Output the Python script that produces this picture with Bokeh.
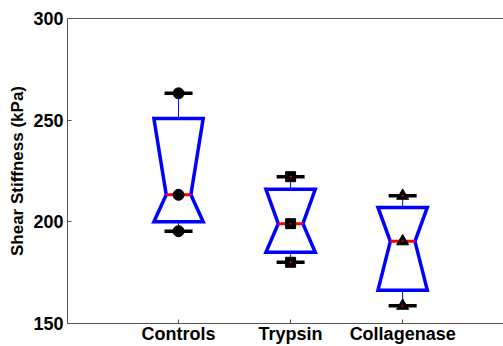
from bokeh.plotting import figure
from bokeh.models import Range1d, FixedTicker, Title, ColumnDataSource, LinearAxis
from bokeh.embed import file_html
from bokeh.resources import INLINE

# ---- data ----
groups = ["Controls", "Trypsin", "Collagenase"]
positions = [1, 2, 3]
upper = [263.2, 222.2, 212.8]
q3 = [250.8, 216.0, 207.1]
median = [213.3, 199.1, 190.4]
q1 = [200.0, 185.0, 166.4]
lower = [195.4, 180.1, 158.7]
markers = ["circle", "square", "triangle"]
y_ticks = [150, 200, 250, 300]
y_title = "Shear Stiffness (kPa)"

# ---- style ----
BOX_HALF = 0.22
NOTCH_HALF = 0.11
CAP_HALF = 0.125
FONT = "Liberation Sans"
X_START, X_END = 0.009, 3.9

p = figure(width=503, height=346, output_backend="svg", toolbar_location=None,
           x_range=Range1d(X_START, X_END), y_range=Range1d(150, 300),
           min_border_left=67, min_border_right=0, min_border_top=18,
           min_border_bottom=20)
p.background_fill_color = "white"
p.border_fill_color = "white"
p.outline_line_color = None
p.xgrid.visible = False
p.ygrid.visible = False

bottom = p.below[0]
left = p.left[0]

# top border line (axes box top; right edge lies outside the window)
top = LinearAxis(ticker=FixedTicker(ticks=[]), axis_line_color="#555555",
                 major_label_text_color=None, major_tick_line_color=None,
                 minor_tick_line_color=None)
p.add_layout(top, "above")

# whiskers
p.segment(x0=positions, y0=q3, x1=positions, y1=upper, line_color="#0000ff", line_width=1)
p.segment(x0=positions, y0=q1, x1=positions, y1=lower, line_color="#0000ff", line_width=1)

# notched boxes
xs, ys = [], []
for x, a, m, b in zip(positions, q3, median, q1):
    xs.append([x - BOX_HALF, x + BOX_HALF, x + NOTCH_HALF, x + BOX_HALF, x - BOX_HALF, x - NOTCH_HALF])
    ys.append([a, a, m, b, b, m])
p.patches(xs=xs, ys=ys, fill_color=None, line_color="#0000ff", line_width=3.5, line_join="miter")

# median lines
p.segment(x0=[x - NOTCH_HALF for x in positions], y0=median,
          x1=[x + NOTCH_HALF for x in positions], y1=median,
          line_color="#ff0000", line_width=3)

# whisker caps
for vals in (upper, lower):
    p.segment(x0=[x - CAP_HALF for x in positions], y0=vals,
              x1=[x + CAP_HALF for x in positions], y1=vals,
              line_color="black", line_width=3.5)

# markers at max, median, min
sizes = {"circle": 11, "square": 10, "triangle": 12}
for x, mk, u, m, lo in zip(positions, markers, upper, median, lower):
    src = ColumnDataSource(dict(x=[x, x, x], y=[u, m, lo]))
    p.scatter("x", "y", source=src, marker=mk, size=sizes[mk],
              fill_color="black", line_color="black")
    if mk != "circle":
        p.scatter("x", "y", source=src, marker="circle", size=2,
                  fill_color="red", line_color=None)

# axes
bottom.ticker = FixedTicker(ticks=positions)
bottom.major_label_overrides = {x: g for x, g in zip(positions, groups)}
left.ticker = FixedTicker(ticks=y_ticks)
for ax in (bottom, left):
    ax.major_label_text_font = FONT
    ax.major_label_text_font_style = "bold"
    ax.major_label_text_font_size = "18px"
    ax.major_label_text_color = "black"
    ax.axis_line_color = "#555555"
    ax.major_tick_line_color = "#555555"
    ax.major_tick_in = 4
    ax.major_tick_out = 0
    ax.minor_tick_line_color = None
bottom.major_label_standoff = 0
left.major_label_standoff = 4

# y title, shifted upward like the reference
p.add_layout(Title(text=y_title, align="center", offset=65, standoff=8,
                   text_font=FONT, text_font_style="bold", text_font_size="17px",
                   text_color="black"), "left")

open("out.html", "w").write(file_html(p, INLINE))
